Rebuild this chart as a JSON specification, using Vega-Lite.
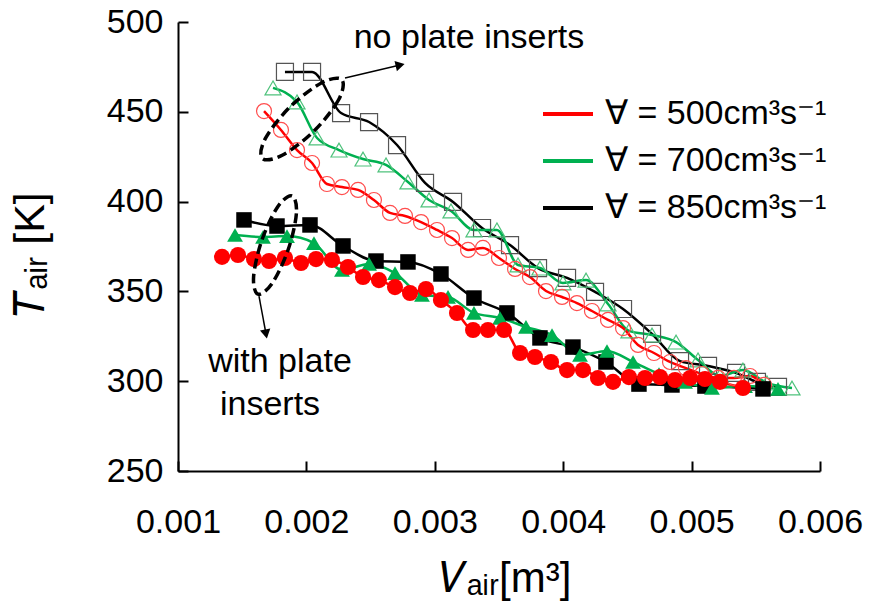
{
"$schema": "https://vega.github.io/schema/vega-lite/v6.json",
"width": 642, "height": 449,
"autosize": {"type": "none"},
"padding": {"left": 178, "top": 22, "right": 59, "bottom": 134},
"config": {"font": "Liberation Sans", "view": {"stroke": null},
 "axis": {"grid": false, "domainColor": "#000", "domainWidth": 2, "tickColor": "#000", "tickWidth": 2, "tickSize": -10, "labelColor": "#000", "titleColor": "#000", "labelFontSize": 34, "titleFontWeight": "normal", "labelFlush": false, "labelOverlap": false}},
"datasets": {
"pts": [
{"k":"o","f":"850","V":0.001833,"T":472.2},{"k":"o","f":"850","V":0.002044,"T":472.2},{"k":"o","f":"850","V":0.002270,"T":449.3},{"k":"o","f":"850","V":0.002488,"T":444.3},{"k":"o","f":"850","V":0.002706,"T":431.5},{"k":"o","f":"850","V":0.002924,"T":410.4},{"k":"o","f":"850","V":0.003142,"T":399.8},{"k":"o","f":"850","V":0.003368,"T":385.3},{"k":"o","f":"850","V":0.003586,"T":375.8},{"k":"o","f":"850","V":0.003804,"T":363.0},{"k":"o","f":"850","V":0.004030,"T":357.5},{"k":"o","f":"850","V":0.004248,"T":349.7},{"k":"o","f":"850","V":0.004466,"T":340.2},{"k":"o","f":"850","V":0.004692,"T":326.3},{"k":"o","f":"850","V":0.004910,"T":311.2},{"k":"o","f":"850","V":0.005128,"T":308.5},{"k":"o","f":"850","V":0.005346,"T":304.6},{"k":"o","f":"850","V":0.005509,"T":299.6},{"k":"o","f":"850","V":0.005673,"T":296.8},
{"k":"o","f":"700","V":0.001740,"T":463.3},{"k":"o","f":"700","V":0.001927,"T":455.5},{"k":"o","f":"700","V":0.002083,"T":435.4},{"k":"o","f":"700","V":0.002254,"T":428.7},{"k":"o","f":"700","V":0.002441,"T":423.7},{"k":"o","f":"700","V":0.002620,"T":420.4},{"k":"o","f":"700","V":0.002791,"T":410.9},{"k":"o","f":"700","V":0.002955,"T":400.9},{"k":"o","f":"700","V":0.003126,"T":394.8},{"k":"o","f":"700","V":0.003305,"T":384.2},{"k":"o","f":"700","V":0.003484,"T":384.2},{"k":"o","f":"700","V":0.003648,"T":364.7},{"k":"o","f":"700","V":0.003819,"T":363.0},{"k":"o","f":"700","V":0.003998,"T":354.7},{"k":"o","f":"700","V":0.004178,"T":356.3},{"k":"o","f":"700","V":0.004349,"T":343.0},{"k":"o","f":"700","V":0.004512,"T":328.0},{"k":"o","f":"700","V":0.004692,"T":325.7},{"k":"o","f":"700","V":0.004879,"T":321.8},{"k":"o","f":"700","V":0.005050,"T":311.8},{"k":"o","f":"700","V":0.005221,"T":302.9},{"k":"o","f":"700","V":0.005400,"T":306.2},{"k":"o","f":"700","V":0.005587,"T":299.0},{"k":"o","f":"700","V":0.005782,"T":296.2},
{"k":"o","f":"500","V":0.001670,"T":450.4},{"k":"o","f":"500","V":0.001802,"T":439.9},{"k":"o","f":"500","V":0.001927,"T":428.7},{"k":"o","f":"500","V":0.002044,"T":421.5},{"k":"o","f":"500","V":0.002160,"T":409.8},{"k":"o","f":"500","V":0.002277,"T":408.1},{"k":"o","f":"500","V":0.002402,"T":406.5},{"k":"o","f":"500","V":0.002526,"T":400.9},{"k":"o","f":"500","V":0.002651,"T":393.7},{"k":"o","f":"500","V":0.002768,"T":392.0},{"k":"o","f":"500","V":0.002893,"T":388.6},{"k":"o","f":"500","V":0.003017,"T":384.2},{"k":"o","f":"500","V":0.003134,"T":379.7},{"k":"o","f":"500","V":0.003259,"T":373.1},{"k":"o","f":"500","V":0.003375,"T":374.2},{"k":"o","f":"500","V":0.003500,"T":368.6},{"k":"o","f":"500","V":0.003625,"T":362.5},{"k":"o","f":"500","V":0.003741,"T":358.0},{"k":"o","f":"500","V":0.003866,"T":350.2},{"k":"o","f":"500","V":0.003991,"T":346.9},{"k":"o","f":"500","V":0.004107,"T":343.5},{"k":"o","f":"500","V":0.004224,"T":339.1},{"k":"o","f":"500","V":0.004349,"T":334.1},{"k":"o","f":"500","V":0.004466,"T":329.6},{"k":"o","f":"500","V":0.004583,"T":320.2},{"k":"o","f":"500","V":0.004707,"T":315.7},{"k":"o","f":"500","V":0.004832,"T":310.7},{"k":"o","f":"500","V":0.004956,"T":307.3},{"k":"o","f":"500","V":0.005081,"T":304.0},{"k":"o","f":"500","V":0.005206,"T":301.8},{"k":"o","f":"500","V":0.005330,"T":301.8},{"k":"o","f":"500","V":0.005455,"T":302.9},{"k":"o","f":"500","V":0.005564,"T":297.9},
{"k":"f","f":"850","V":0.001514,"T":389.8},{"k":"f","f":"850","V":0.001771,"T":386.4},{"k":"f","f":"850","V":0.002028,"T":387.0},{"k":"f","f":"850","V":0.002285,"T":375.3},{"k":"f","f":"850","V":0.002542,"T":366.9},{"k":"f","f":"850","V":0.002791,"T":366.4},{"k":"f","f":"850","V":0.003048,"T":359.7},{"k":"f","f":"850","V":0.003305,"T":346.3},{"k":"f","f":"850","V":0.003562,"T":338.0},{"k":"f","f":"850","V":0.003819,"T":324.1},{"k":"f","f":"850","V":0.004076,"T":319.0},{"k":"f","f":"850","V":0.004333,"T":310.7},{"k":"f","f":"850","V":0.004590,"T":298.4},{"k":"f","f":"850","V":0.004847,"T":297.9},{"k":"f","f":"850","V":0.005104,"T":297.3},{"k":"f","f":"850","V":0.005556,"T":295.7},
{"k":"f","f":"700","V":0.001444,"T":381.4},{"k":"f","f":"700","V":0.001662,"T":380.3},{"k":"f","f":"700","V":0.001849,"T":380.8},{"k":"f","f":"700","V":0.002059,"T":376.9},{"k":"f","f":"700","V":0.002277,"T":361.9},{"k":"f","f":"700","V":0.002488,"T":365.3},{"k":"f","f":"700","V":0.002690,"T":360.2},{"k":"f","f":"700","V":0.002900,"T":348.0},{"k":"f","f":"700","V":0.003103,"T":346.9},{"k":"f","f":"700","V":0.003305,"T":338.0},{"k":"f","f":"700","V":0.003508,"T":335.2},{"k":"f","f":"700","V":0.003710,"T":330.2},{"k":"f","f":"700","V":0.003913,"T":325.7},{"k":"f","f":"700","V":0.004131,"T":314.6},{"k":"f","f":"700","V":0.004341,"T":316.8},{"k":"f","f":"700","V":0.004544,"T":310.7},{"k":"f","f":"700","V":0.004746,"T":304.0},{"k":"f","f":"700","V":0.004949,"T":299.6},{"k":"f","f":"700","V":0.005159,"T":296.2},{"k":"f","f":"700","V":0.005416,"T":297.3},{"k":"f","f":"700","V":0.005673,"T":295.7},
{"k":"f","f":"500","V":0.001343,"T":369.2},{"k":"f","f":"500","V":0.001467,"T":370.3},{"k":"f","f":"500","V":0.001592,"T":368.0},{"k":"f","f":"500","V":0.001709,"T":366.9},{"k":"f","f":"500","V":0.001833,"T":368.6},{"k":"f","f":"500","V":0.001958,"T":365.8},{"k":"f","f":"500","V":0.002075,"T":368.0},{"k":"f","f":"500","V":0.002199,"T":367.5},{"k":"f","f":"500","V":0.002324,"T":363.6},{"k":"f","f":"500","V":0.002441,"T":358.0},{"k":"f","f":"500","V":0.002565,"T":356.3},{"k":"f","f":"500","V":0.002690,"T":352.4},{"k":"f","f":"500","V":0.002807,"T":349.1},{"k":"f","f":"500","V":0.002931,"T":351.3},{"k":"f","f":"500","V":0.003048,"T":345.2},{"k":"f","f":"500","V":0.003173,"T":338.0},{"k":"f","f":"500","V":0.003298,"T":328.5},{"k":"f","f":"500","V":0.003414,"T":328.5},{"k":"f","f":"500","V":0.003539,"T":328.5},{"k":"f","f":"500","V":0.003664,"T":315.7},{"k":"f","f":"500","V":0.003780,"T":313.5},{"k":"f","f":"500","V":0.003905,"T":310.7},{"k":"f","f":"500","V":0.004030,"T":306.2},{"k":"f","f":"500","V":0.004154,"T":306.2},{"k":"f","f":"500","V":0.004271,"T":301.8},{"k":"f","f":"500","V":0.004388,"T":299.6},{"k":"f","f":"500","V":0.004512,"T":302.3},{"k":"f","f":"500","V":0.004637,"T":301.8},{"k":"f","f":"500","V":0.004754,"T":302.3},{"k":"f","f":"500","V":0.004871,"T":300.7},{"k":"f","f":"500","V":0.004988,"T":301.8},{"k":"f","f":"500","V":0.005104,"T":301.2},{"k":"f","f":"500","V":0.005221,"T":299.6},{"k":"f","f":"500","V":0.005400,"T":296.2}
],
"ell": [
{"e":1,"o":0,"V":0.0022757,"T":467.9},{"e":1,"o":1,"V":0.0022508,"T":456.7},{"e":1,"o":2,"V":0.0020592,"T":439.3},{"e":1,"o":3,"V":0.0018115,"T":425.8},{"e":1,"o":4,"V":0.0016558,"T":424.1},{"e":1,"o":5,"V":0.0016807,"T":435.2},{"e":1,"o":6,"V":0.0018723,"T":452.7},{"e":1,"o":7,"V":0.0021199,"T":466.2},
{"e":2,"o":0,"V":0.0018879,"T":403.2},{"e":2,"o":1,"V":0.0019221,"T":393.4},{"e":2,"o":2,"V":0.0018583,"T":373.3},{"e":2,"o":3,"V":0.0017352,"T":354.7},{"e":2,"o":4,"V":0.0016231,"T":348.5},{"e":2,"o":5,"V":0.0015888,"T":358.2},{"e":2,"o":6,"V":0.0016526,"T":378.4},{"e":2,"o":7,"V":0.0017757,"T":397.0}
]
},
"layer": [
{"data": {"name": "pts"}, "mark": {"type": "line", "interpolate": "monotone", "strokeWidth": 2.5},
 "encoding": {
  "x": {"field": "V", "type": "quantitative", "scale": {"domain": [0.001, 0.006], "nice": false, "zero": false},
   "axis": {"values": [0.001, 0.002, 0.003, 0.004, 0.005, 0.006], "format": ".3f", "labelPadding": 44, "title": "𝑉ₐᵢᵣ[m³]", "titleFontSize": 42, "titleX": 327, "titleY": 107, "titleAlign": "center", "titleBaseline": "middle"}},
  "y": {"field": "T", "type": "quantitative", "scale": {"domain": [250, 500], "nice": false, "zero": false},
   "axis": {"values": [250, 300, 350, 400, 450, 500], "labelPadding": 25, "title": "𝑇ₐᵢᵣ [K]", "titleFontSize": 43, "titleAngle": -90, "titleX": -148, "titleY": 232, "titleAlign": "center", "titleBaseline": "middle"}},
  "color": {"field": "f", "type": "nominal", "scale": {"domain": ["500", "700", "850"], "range": ["#FF0000", "#00B050", "#000000"]},
   "legend": {"orient": "none", "legendX": 363, "legendY": 65, "title": null, "symbolType": "stroke", "symbolSize": 2500, "symbolStrokeWidth": 4, "labelFontSize": 34, "labelOffset": 10, "rowPadding": 3, "labelLimit": 500, "labelColor": "#000", "labelExpr": "'∀ = ' + datum.label + 'cm³s⁻¹'",
    "encode": {"symbols": {"update": {"shape": {"value": "stroke"}, "size": {"value": 2500}, "fill": {"value": "transparent"}, "strokeWidth": {"value": 4}}}}}},
  "detail": {"field": "k"}
 }},
{"data": {"name": "pts"}, "transform": [{"filter": "datum.k == 'o'"}],
 "mark": {"type": "point", "filled": false, "strokeWidth": 1.2, "opacity": 1},
 "encoding": {
  "x": {"field": "V", "type": "quantitative"},
  "y": {"field": "T", "type": "quantitative"},
  "stroke": {"field": "f", "type": "nominal", "scale": {"domain": ["500", "700", "850"], "range": ["#FF4D4D", "#4FC27C", "#555555"]}, "legend": null},
  "shape": {"field": "f", "type": "nominal", "scale": {"domain": ["500", "700", "850"], "range": ["circle", "triangle-up", "square"]}, "legend": null},
  "size": {"field": "f", "type": "nominal", "scale": {"domain": ["500", "700", "850"], "range": [225, 289, 300]}, "legend": null}
 }},
{"data": {"name": "pts"}, "transform": [{"filter": "datum.k == 'f'"}],
 "mark": {"type": "point", "filled": true, "opacity": 1, "strokeWidth": 0},
 "encoding": {
  "x": {"field": "V", "type": "quantitative"},
  "y": {"field": "T", "type": "quantitative"},
  "fill": {"field": "f", "type": "nominal", "scale": {"domain": ["500", "700", "850"], "range": ["#FF0000", "#00B050", "#000000"]}, "legend": null},
  "shape": {"field": "f", "type": "nominal", "legend": null},
  "size": {"field": "f", "type": "nominal", "scale": {"domain": ["500", "700", "850"], "range": [260, 240, 285]}, "legend": null}
 }},
{"data": {"name": "ell"}, "mark": {"type": "line", "interpolate": "cardinal-closed", "color": "#000", "strokeWidth": 3.5, "strokeDash": [10, 5]},
 "encoding": {"x": {"field": "V", "type": "quantitative"}, "y": {"field": "T", "type": "quantitative"}, "detail": {"field": "e"}, "order": {"field": "o"}}},
{"data": {"values": [{"V": 0.0023006, "T": 468.8, "V2": 0.0027300, "T2": 476.0}, {"V": 0.0016308, "T": 347.4, "V2": 0.0016854, "T2": 326.3}]},
 "mark": {"type": "rule", "color": "#000", "strokeWidth": 1.5},
 "encoding": {"x": {"field": "V", "type": "quantitative"}, "y": {"field": "T", "type": "quantitative"}, "x2": {"field": "V2"}, "y2": {"field": "T2"}}},
{"data": {"values": [{"V": 0.0027300, "T": 476.0}]},
 "mark": {"type": "point", "shape": "triangle-right", "angle": -13, "filled": true, "color": "#000", "size": 110, "opacity": 1},
 "encoding": {"x": {"field": "V", "type": "quantitative"}, "y": {"field": "T", "type": "quantitative"}}},
{"data": {"values": [{"V": 0.0016854, "T": 326.3}]},
 "mark": {"type": "point", "shape": "triangle-down", "angle": -11, "filled": true, "color": "#000", "size": 110, "opacity": 1},
 "encoding": {"x": {"field": "V", "type": "quantitative"}, "y": {"field": "T", "type": "quantitative"}}},
{"data": {"values": [{"V": 0.0032664, "T": 491.1, "t": "no plate inserts"}, {"V": 0.0017944, "T": 310.7, "t": "with plate"}, {"V": 0.0017165, "T": 286.7, "t": "inserts"}]},
 "mark": {"type": "text", "fontSize": 34, "align": "center", "baseline": "middle", "color": "#000"},
 "encoding": {"x": {"field": "V", "type": "quantitative"}, "y": {"field": "T", "type": "quantitative"}, "text": {"field": "t"}}}
],
"resolve": {"scale": {"size": "independent"}, "legend": {"color": "independent", "shape": "independent", "size": "independent", "fill": "independent", "stroke": "independent"}}
}
